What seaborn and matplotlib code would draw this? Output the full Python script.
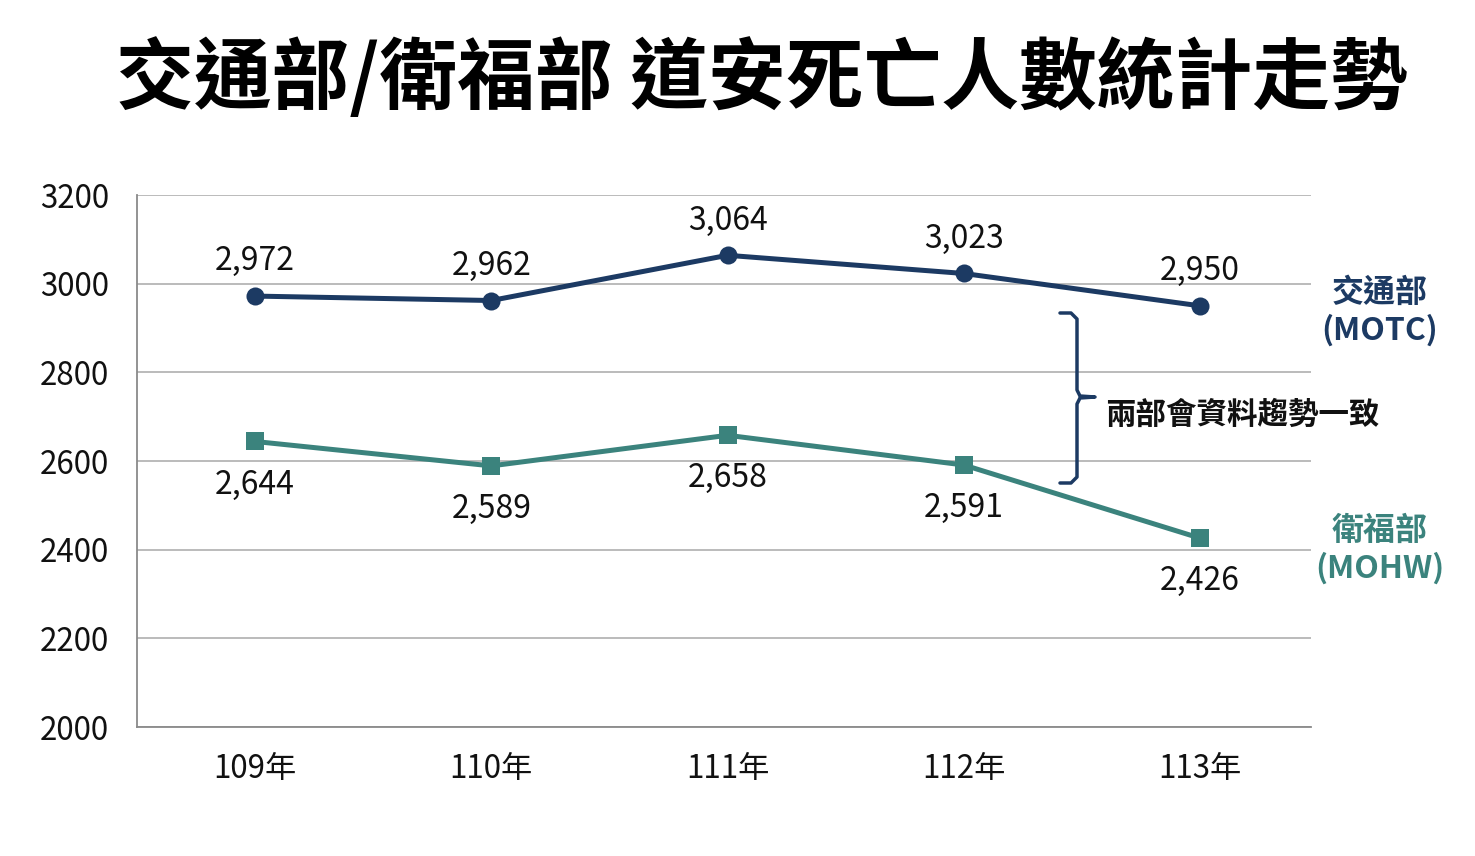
import pandas as pd
import seaborn as sns
import matplotlib.pyplot as plt
from matplotlib.lines import Line2D

years = ['109年', '110年', '111年', '112年', '113年']
motc = [2972, 2962, 3064, 3023, 2950]
mohw = [2644, 2589, 2658, 2591, 2426]
series_names = ['交通部', '衛福部']

NAVY = '#1c3a63'
TEAL = '#3b837d'

df = pd.concat([
    pd.DataFrame({'year': years, 'deaths': motc, 'dept': series_names[0]}),
    pd.DataFrame({'year': years, 'deaths': mohw, 'dept': series_names[1]}),
])

sns.set_theme(style='white')
plt.rcParams['font.family'] = ['Noto Sans CJK TC', 'DejaVu Sans']

fig = plt.figure(figsize=(14.75, 8.56), dpi=100)
ax = fig.add_axes([137 / 1475, 1 - 727 / 856, (1311 - 137) / 1475, (727 - 195) / 856])

sns.lineplot(data=df, x='year', y='deaths', hue='dept', style='dept',
             palette={series_names[0]: NAVY, series_names[1]: TEAL},
             markers={series_names[0]: 'o', series_names[1]: 's'},
             dashes=False, linewidth=3.6, markersize=13, markeredgewidth=0,
             legend=False, ax=ax)

ax.set_ylim(2000, 3200)
ax.set_xlim(-0.5, 4.47)
ax.set_yticks(range(2000, 3201, 200))
ax.yaxis.grid(True, color='#b5b5b5', linewidth=1.3)
ax.set_axisbelow(True)
ax.set_xlabel('')
ax.set_ylabel('')
for s in ['top', 'right']:
    ax.spines[s].set_visible(False)
for s in ['left', 'bottom']:
    ax.spines[s].set_color('#8a8a8a')
    ax.spines[s].set_linewidth(1.3)
ax.tick_params(axis='y', length=0, pad=20, labelsize=22.5, labelcolor='#111111')
ax.tick_params(axis='x', length=0, pad=19, labelsize=22.5, labelcolor='#111111')

for i, v in enumerate(motc):
    ax.annotate(f'{v:,}', (i, v), xytext=(0, 25), textcoords='offset points',
                ha='center', va='center', fontsize=23, color='#111111')
for i, v in enumerate(mohw):
    ax.annotate(f'{v:,}', (i, v), xytext=(0, -31), textcoords='offset points',
                ha='center', va='center', fontsize=23, color='#111111')

# right-side labels
fig.text(1380 / 1475, 1 - 312 / 856, '交通部\n(MOTC)', ha='center', va='center',
         fontsize=23, fontweight='bold', color=NAVY, linespacing=1.2)
fig.text(1380 / 1475, 1 - 550 / 856, '衛福部\n(MOHW)', ha='center', va='center',
         fontsize=23, fontweight='bold', color=TEAL, linespacing=1.2)

# bracket
bx = [1060, 1071, 1077, 1077, 1080, 1095, 1080, 1077, 1077, 1071, 1060]
by = [313, 313, 319, 390, 396, 397, 398, 404, 477, 483, 483]
fig.add_artist(Line2D([x / 1475 for x in bx], [1 - y / 856 for y in by],
                      transform=fig.transFigure, color=NAVY, linewidth=2.5,
                      solid_joinstyle='round', solid_capstyle='round'))
fig.text(1105 / 1475, 1 - 415 / 856, '兩部會資料趨勢一致', ha='left', va='center',
         fontsize=22, fontweight='bold', color='#111111')

fig.text(762 / 1475, 1 - 80 / 856, '交通部/衛福部 道安死亡人數統計走勢',
         ha='center', va='center', fontsize=56, fontweight='bold', color='black')

fig.savefig('out.png', dpi=100, facecolor='white')
